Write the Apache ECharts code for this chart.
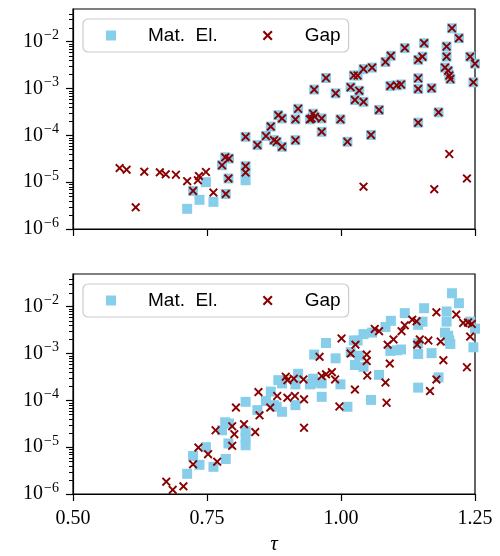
<!DOCTYPE html>
<html>
<head>
<meta charset="utf-8">
<script src="https://cdn.jsdelivr.net/npm/echarts@6/dist/echarts.min.js"></script>
<style>html,body{margin:0;padding:0;background:#fff}#c{width:500px;height:556px}</style>
</head>
<body>
<div id="c"></div>
<script>
// ---- data ----
var xTicks = [0.5, 0.75, 1.0, 1.25];
var yMajorTicks = [1e-6, 1e-5, 1e-4, 1e-3, 1e-2];
var yMinorTicks = [2e-6,3e-6,4e-6,5e-6,6e-6,7e-6,8e-6,9e-6,
  2e-5,3e-5,4e-5,5e-5,6e-5,7e-5,8e-5,9e-5,
  2e-4,3e-4,4e-4,5e-4,6e-4,7e-4,8e-4,9e-4,
  2e-3,3e-3,4e-3,5e-3,6e-3,7e-3,8e-3,9e-3,
  2e-2,3e-2,4e-2];

// Matrix element (same in both panels)
var matEl = [
  [0.713,2.7e-6],[0.724,6.5e-6],[0.736,4.2e-6],[0.748,1.0e-5],[0.762,3.8e-6],
  [0.778,2.3e-5],[0.784,3.4e-5],[0.791,3.2e-5],[0.790,1.2e-5],[0.785,5.6e-6],
  [0.822,9.3e-5],[0.822,2.2e-5],[0.822,1.6e-5],[0.822,1.1e-5],[0.844,6.2e-5],
  [0.860,9.7e-5],[0.869,1.54e-4],[0.875,7.9e-5],[0.880,7.3e-5],[0.883,2.7e-4],
  [0.890,2.3e-4],[0.890,5.7e-5],[0.915,7.9e-5],[0.915,2.2e-4],[0.920,3.7e-4],
  [0.942,2.2e-4],[0.945,2.3e-4],[0.948,2.9e-4],[0.951,2.5e-4],[0.964,2.3e-4],
  [0.964,1.19e-4],[0.950,9.5e-4],[0.972,1.68e-3],[0.990,7.9e-4],[0.999,2.2e-4],
  [1.012,7.3e-5],[1.018,1.07e-3],[1.024,1.9e-3],[1.031,1.9e-3],[1.034,9.0e-4],
  [1.026,5.7e-4],[1.042,5.2e-4],[1.042,2.6e-3],[1.058,2.8e-3],[1.056,1.02e-4],
  [1.071,3.5e-4],[1.083,3.7e-3],[1.093,5.0e-3],[1.092,1.14e-3],[1.104,1.17e-3],
  [1.112,1.22e-3],[1.119,7.3e-3],[1.144,4.1e-3],[1.152,4.8e-3],[1.155,9.3e-3],
  [1.144,1.66e-3],[1.144,9.8e-4],[1.144,1.87e-4],[1.169,1.02e-3],[1.182,3.1e-4],
  [1.197,7.9e-3],[1.197,4.8e-3],[1.194,2.8e-3],[1.200,2.4e-3],[1.202,1.9e-3],
  [1.204,1.6e-3],[1.207,1.94e-2],[1.220,1.19e-2],[1.241,4.8e-3],[1.247,1.36e-3],
  [1.250,3.4e-3]
];

// Gap, top panel
var gapTop = [
  [0.587,2.0e-5],[0.600,1.85e-5],[0.633,1.68e-5],[0.662,1.62e-5],[0.673,1.47e-5],
  [0.692,1.44e-5],[0.713,1.05e-5],[0.617,2.9e-6],[0.735,1.35e-5],[0.733,1.1e-5],
  [0.748,1.65e-5],[0.762,6.0e-6],[1.042,8.0e-6],[1.174,7.1e-6],[1.202,4.0e-5],
  [1.235,1.2e-5],
  [0.724,6.5e-6],
  [0.778,2.3e-5],[0.784,3.4e-5],[0.791,3.2e-5],[0.790,1.2e-5],[0.785,5.6e-6],
  [0.822,9.3e-5],[0.822,2.2e-5],[0.822,1.6e-5],[0.844,6.2e-5],
  [0.860,9.7e-5],[0.869,1.54e-4],[0.875,7.9e-5],[0.880,7.3e-5],[0.883,2.7e-4],
  [0.890,2.3e-4],[0.890,5.7e-5],[0.915,7.9e-5],[0.915,2.2e-4],[0.920,3.7e-4],
  [0.942,2.2e-4],[0.945,2.3e-4],[0.948,2.9e-4],[0.951,2.5e-4],[0.964,2.3e-4],
  [0.964,1.19e-4],[0.950,9.5e-4],[0.972,1.68e-3],[0.990,7.9e-4],[0.999,2.2e-4],
  [1.012,7.3e-5],[1.018,1.07e-3],[1.024,1.9e-3],[1.031,1.9e-3],[1.034,9.0e-4],
  [1.026,5.7e-4],[1.042,5.2e-4],[1.042,2.6e-3],[1.058,2.8e-3],[1.056,1.02e-4],
  [1.071,3.5e-4],[1.083,3.7e-3],[1.093,5.0e-3],[1.092,1.14e-3],[1.104,1.17e-3],
  [1.112,1.22e-3],[1.119,7.3e-3],[1.144,4.1e-3],[1.152,4.8e-3],[1.155,9.3e-3],
  [1.144,1.66e-3],[1.144,9.8e-4],[1.144,1.87e-4],[1.169,1.02e-3],[1.182,3.1e-4],
  [1.197,7.9e-3],[1.197,4.8e-3],[1.194,2.8e-3],[1.200,2.4e-3],[1.202,1.9e-3],
  [1.204,1.6e-3],[1.207,1.94e-2],[1.220,1.19e-2],[1.241,4.8e-3],[1.247,1.36e-3],
  [1.250,3.4e-3]
];

// Gap, bottom panel
var gapBottom = [
  [0.674,1.83e-6],[0.686,1.23e-6],[0.706,1.46e-6],[0.724,4.3e-6],[0.734,9.8e-6],
  [0.752,7.1e-6],[0.769,4.9e-6],[0.766,2.3e-5],[0.797,2.8e-5],[0.801,1.9e-5],
  [0.797,1.07e-5],[0.804,7.0e-5],[0.819,3.1e-5],[0.840,2.1e-5],[0.848,4.8e-5],
  [0.846,1.5e-4],[0.868,7.0e-5],[0.881,1.24e-4],[0.897,3.2e-4],[0.900,2.7e-4],
  [0.912,2.9e-4],[0.930,2.8e-4],[0.900,1.14e-4],[0.914,1.24e-4],[0.931,1.05e-4],
  [0.931,2.6e-5],[0.960,8.5e-4],[0.964,3.3e-4],[0.972,3.6e-4],[0.983,4.0e-4],
  [0.989,2.8e-4],[0.997,7.4e-5],[1.001,2.1e-3],[1.018,1.0e-3],[1.027,1.55e-3],
  [1.026,1.7e-4],[1.048,9.5e-4],[1.048,6.9e-4],[1.049,3.4e-4],[1.063,3.35e-3],
  [1.071,3.0e-3],[1.083,2.4e-4],[1.085,8.9e-5],[1.087,1.55e-3],[1.098,2.0e-3],
  [1.091,6.1e-4],[1.113,3.0e-3],[1.119,4.0e-3],[1.133,5.3e-3],[1.141,4.9e-3],
  [1.142,1.55e-3],[1.147,2.0e-3],[1.163,1.9e-3],[1.178,7.6e-3],[1.186,1.8e-3],
  [1.191,7.2e-4],[1.178,2.8e-4],[1.166,1.58e-4],[1.215,6.8e-3],[1.228,4.5e-3],
  [1.237,4.6e-3],[1.244,4.3e-3],[1.241,2.3e-3],[1.235,5.1e-4]
];

// ---- chart ----
var SERIF = 'Liberation Serif';
var SANS = 'Liberation Sans';
var XMARK = 'path://M0,1.5L1.5,0L5,3.5L8.5,0L10,1.5L6.5,5L10,8.5L8.5,10L5,6.5L1.5,10L0,8.5L3.5,5Z';
var BLUE = '#87CEEB', RED = '#8B0000';
var X_MIN = 0.5, X_MAX = 1.25, Y_MIN = 1e-6, Y_MAX = 0.05;

function xAxisDef(gi, showLabels) {
  return {
    type: 'value', gridIndex: gi, min: X_MIN, max: X_MAX, interval: 0.25,
    splitLine: {show: false},
    axisLine: {lineStyle: {color: '#000', width: 1.2}},
    axisTick: {length: 7, lineStyle: {color: '#000', width: 1.2}, customValues: xTicks},
    axisLabel: {show: showLabels, customValues: xTicks, margin: 15, color: '#000', fontFamily: SERIF, fontSize: 20,
      formatter: function (v) { return v.toFixed(2); }},
    name: showLabels ? 'τ' : '', nameLocation: 'middle', nameGap: 40,
    nameTextStyle: {fontFamily: SERIF, fontStyle: 'italic', fontSize: 21, color: '#000'}
  };
}
function yMajor(gi) {
  return {
    type: 'log', logBase: 10, gridIndex: gi, min: Y_MIN, max: Y_MAX, position: 'left',
    splitLine: {show: false},
    axisLine: {lineStyle: {color: '#000', width: 1.2}},
    axisTick: {length: 7, lineStyle: {color: '#000', width: 1.2}, customValues: yMajorTicks},
    axisLabel: {customValues: yMajorTicks, margin: 14, color: '#000',
      formatter: function (v) { var e = Math.round(Math.log10(v)); return '{b|10}{s|\u2212' + (-e) + '}'; },
      rich: {b: {fontFamily: SERIF, fontSize: 20, color: '#000'},
             s: {fontFamily: SERIF, fontSize: 14, color: '#000', padding: [0, 0, 12, 1]}}}
  };
}
function legendDef(top) {
  return {
    left: 83, top: top, orient: 'horizontal',
    padding: [7, 8, 7, 23], itemGap: 45, itemWidth: 10, itemHeight: 10,
    borderColor: '#cccccc', borderWidth: 1.2, borderRadius: 5,
    backgroundColor: 'rgba(255,255,255,0.8)',
    textStyle: {fontFamily: SANS, fontSize: 19, color: '#000', padding: [0, 0, 0, 27]},
    data: [{name: 'Mat. El.', textStyle: {width: 80}}, {name: 'Gap', textStyle: {width: 33}}],
    formatter: function (n) { return n === 'Mat. El.' ? 'Mat.  El.' : n; },
    selectedMode: false
  };
}
function sq(data, xi, yi) {
  return {type: 'scatter', name: 'Mat. El.', xAxisIndex: xi, yAxisIndex: yi, data: data,
    symbol: 'rect', symbolSize: 10, itemStyle: {color: BLUE, opacity: 1}, z: 2};
}
function xs(data, xi, yi) {
  return {type: 'scatter', name: 'Gap', xAxisIndex: xi, yAxisIndex: yi, data: data,
    symbol: XMARK, symbolSize: 9, itemStyle: {color: RED, opacity: 1}, z: 3};
}

var chart = echarts.init(document.getElementById('c'), null, {renderer: 'canvas'});
chart.setOption({
  animation: false,
  backgroundColor: '#fff',
  grid: [
    {left: 73, top: 9, width: 402, height: 220, show: true, borderColor: '#000', borderWidth: 1.2},
    {left: 73, top: 274, width: 402, height: 221, show: true, borderColor: '#000', borderWidth: 1.2}
  ],
  xAxis: [xAxisDef(0, false), xAxisDef(1, true)],
  yAxis: [yMajor(0), yMajor(1)],
  legend: [legendDef(19), legendDef(284)],
  series: [
    sq(matEl, 0, 0), xs(gapTop, 0, 0),
    sq(matEl, 1, 1), xs(gapBottom, 1, 1)
  ]
});

// minor log ticks, positioned through the chart's own axes
var minorEls = [];
[0, 1].forEach(function (g) {
  yMinorTicks.forEach(function (v) {
    var p = chart.convertToPixel({xAxisIndex: g, yAxisIndex: g}, [X_MIN, v]);
    if (p && isFinite(p[0]) && isFinite(p[1])) {
      var y = Math.round(p[1]) + 0.5;
      minorEls.push({type: 'line', z: 100, silent: true,
        shape: {x1: p[0] - 4, y1: y, x2: p[0], y2: y},
        style: {stroke: '#000', lineWidth: 1}});
    }
  });
});
chart.setOption({graphic: minorEls});
</script>
</body>
</html>
